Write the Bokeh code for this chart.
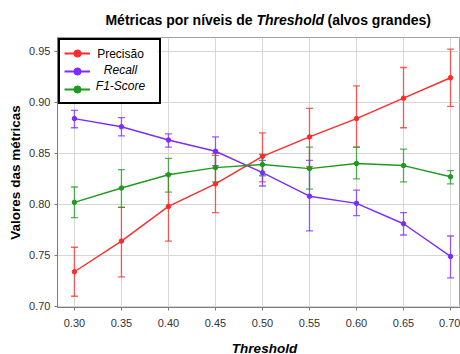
from bokeh.plotting import figure
from bokeh.layouts import column
from bokeh.models import (ColumnDataSource, Whisker, TeeHead, Legend, LegendItem,
                          Label, FixedTicker, NumeralTickFormatter, Range1d,
                          BoxAnnotation)
from bokeh.core.properties import value
from bokeh.embed import file_html
from bokeh.resources import INLINE

# ---- data ----
thresholds = [0.30, 0.35, 0.40, 0.45, 0.50, 0.55, 0.60, 0.65, 0.70]

prec_mean = [0.734, 0.764, 0.798, 0.820, 0.847, 0.866, 0.884, 0.904, 0.924]
prec_low  = [0.710, 0.729, 0.764, 0.792, 0.822, 0.837, 0.856, 0.875, 0.896]
prec_high = [0.758, 0.797, 0.830, 0.848, 0.870, 0.894, 0.916, 0.934, 0.952]

rec_mean = [0.884, 0.876, 0.863, 0.852, 0.831, 0.808, 0.801, 0.781, 0.749]
rec_low  = [0.875, 0.867, 0.856, 0.838, 0.818, 0.774, 0.789, 0.770, 0.728]
rec_high = [0.892, 0.885, 0.869, 0.866, 0.843, 0.843, 0.814, 0.792, 0.769]

f1_mean = [0.802, 0.816, 0.829, 0.836, 0.839, 0.835, 0.840, 0.838, 0.827]
f1_low  = [0.787, 0.797, 0.812, 0.822, 0.828, 0.815, 0.825, 0.822, 0.820]
f1_high = [0.817, 0.834, 0.845, 0.850, 0.849, 0.856, 0.856, 0.854, 0.833]

x_ticks = [0.30, 0.35, 0.40, 0.45, 0.50, 0.55, 0.60, 0.65, 0.70]
y_ticks = [0.70, 0.75, 0.80, 0.85, 0.90, 0.95]

series_names = ["Precisão", "Recall", "F1-Score"]
series_styles = ["normal", "italic", "italic"]
colors = ["#ff2a2a", "#7b2cff", "#1f9a1f"]

title_parts = ["Métricas por níveis de", "Threshold", "(alvos grandes)"]
title_styles = ["bold", "bold italic", "bold"]
x_label = "Threshold"
y_label = "Valores das métricas"

FONT = "Liberation Sans"
W = 460

# page geometry (px): title strip, main plot, x-label strip
TITLE_H = 36
XLAB_TOP = 334
PAGE_H = 354
X0, X1 = 0.282, 0.7106
Y0, Y1 = 0.699, 0.9634
FL, FR, FT, FB = 57, 460, 37, 307
BASE_SHIFT = 3  # svg alphabetic baseline correction


def dx(px):
    return X0 + (px - FL) * (X1 - X0) / (FR - FL)


def dy(py):
    return Y0 + (FB - py) * (Y1 - Y0) / (FB - FT)


def strip(h):
    f = figure(width=W, height=h, output_backend="svg", toolbar_location=None,
               title=None, x_range=Range1d(FL, FR), y_range=Range1d(h, 0),
               x_axis_location=None, y_axis_location=None,
               min_border_left=FL, min_border_right=W - FR,
               min_border_top=0, min_border_bottom=0, outline_line_color=None)
    f.background_fill_color = "white"
    f.border_fill_color = "white"
    f.grid.visible = False
    return f


# ---- title strip (mixed bold / bold italic) ----
tfig = strip(TITLE_H)
title_px = [252, 256, 327]
title_align = ["right", "left", "left"]
for t, px, al, st in zip(title_parts, title_px, title_align, title_styles):
    s = ColumnDataSource(dict(x=[px], y=[22.7 - BASE_SHIFT], t=[t]))
    tfig.text("x", "y", text="t", source=s, text_align=al,
              text_baseline="alphabetic", text_font=value(FONT),
              text_font_size="14px", text_font_style=st, text_color="black")

# ---- main plot ----
p = figure(width=W, height=XLAB_TOP - TITLE_H, output_backend="svg",
           toolbar_location=None, title=None,
           x_range=Range1d(X0, X1), y_range=Range1d(Y0, Y1),
           min_border_left=FL, min_border_right=W - FR,
           min_border_top=FT - TITLE_H, min_border_bottom=XLAB_TOP - FB)
p.background_fill_color = "white"
p.border_fill_color = "white"
p.outline_line_color = "#a0a0a0"
p.outline_line_width = 1

p.xaxis.ticker = FixedTicker(ticks=x_ticks)
p.yaxis.ticker = FixedTicker(ticks=y_ticks)
p.xaxis.formatter = NumeralTickFormatter(format="0.00")
p.yaxis.formatter = NumeralTickFormatter(format="0.00")
for ax in (p.xaxis[0], p.yaxis[0]):
    ax.major_tick_in = 0
    ax.major_tick_out = 3
    ax.minor_tick_line_color = None
    ax.axis_line_color = "#7a7a7a"
    ax.major_tick_line_color = "#7a7a7a"
    ax.major_label_text_font = FONT
    ax.major_label_text_font_size = "11px"
    ax.major_label_text_color = "#333333"
    ax.axis_label_text_font = FONT
    ax.axis_label_text_color = "black"
p.xaxis.major_label_standoff = 8
p.yaxis.major_label_standoff = 4
p.yaxis.axis_label = y_label
p.yaxis.axis_label_text_font_style = "bold"
p.yaxis.axis_label_text_font_size = "13.5px"
p.yaxis.axis_label_standoff = 3

p.xgrid.ticker = FixedTicker(ticks=x_ticks)
p.ygrid.ticker = FixedTicker(ticks=y_ticks)
p.grid.grid_line_color = "#d6d6d6"
p.grid.grid_line_width = 1

means = [prec_mean, rec_mean, f1_mean]
lows = [prec_low, rec_low, f1_low]
highs = [prec_high, rec_high, f1_high]

nan = float("nan")
items = []
for name, col, m, lo, hi in zip(series_names, colors, means, lows, highs):
    src = ColumnDataSource(dict(x=thresholds, y=m, lo=lo, hi=hi))
    w = Whisker(source=src, base="x", upper="hi", lower="lo", dimension="height",
                line_color=col, line_alpha=0.75, line_width=1.3,
                upper_head=TeeHead(size=7, line_color=col, line_alpha=0.75, line_width=1.3),
                lower_head=TeeHead(size=7, line_color=col, line_alpha=0.75, line_width=1.3))
    p.add_layout(w)
    p.line("x", "y", source=src, line_color=col, line_width=1.4)
    p.scatter("x", "y", source=src, marker="circle", size=4.5, fill_color=col,
              line_color=col)
    # legend-only renderers (nothing drawn in the plot)
    lsrc = ColumnDataSource(dict(x=[nan], y=[nan]))
    lr = p.line("x", "y", source=lsrc, line_color=col, line_width=2)
    sr = p.scatter("x", "y", source=lsrc, marker="circle", size=7, fill_color=col,
                   line_color=col)
    items.append(LegendItem(label=name, renderers=[lr, sr]))

# white background under the legend (legend itself transparent so texts show)
p.add_layout(BoxAnnotation(left=dx(58), right=dx(157), top=dy(38), bottom=dy(101),
                           fill_color="white", fill_alpha=1, line_color=None,
                           level="underlay"))

legend = Legend(items=items, location="top_left", margin=1, padding=4,
                spacing=0, glyph_width=26, glyph_height=18, label_height=18,
                label_width=61, label_standoff=4,
                label_text_alpha=0, label_text_font=FONT,
                label_text_font_size="12px",
                border_line_color="black", border_line_width=2,
                border_line_alpha=1, background_fill_alpha=0)
p.add_layout(legend)

leg_base = [56.7, 72.7, 88.3]
for name, style, by in zip(series_names, series_styles, leg_base):
    p.add_layout(Label(x=dx(120), y=dy(by - BASE_SHIFT), text=name,
                       text_align="center", text_baseline="alphabetic",
                       text_font=FONT, text_font_size="12px",
                       text_font_style=style, text_color="black"))

# ---- x-label strip ----
xfig = strip(PAGE_H - XLAB_TOP)
xs = ColumnDataSource(dict(x=[264], y=[350.5 - BASE_SHIFT - XLAB_TOP], t=[x_label]))
xfig.text("x", "y", text="t", source=xs, text_align="center",
          text_baseline="alphabetic", text_font=value(FONT),
          text_font_size="13.5px", text_font_style="bold italic",
          text_color="black")

layout = column(tfig, p, xfig, spacing=0)
open("out.html", "w").write(file_html(layout, INLINE))
